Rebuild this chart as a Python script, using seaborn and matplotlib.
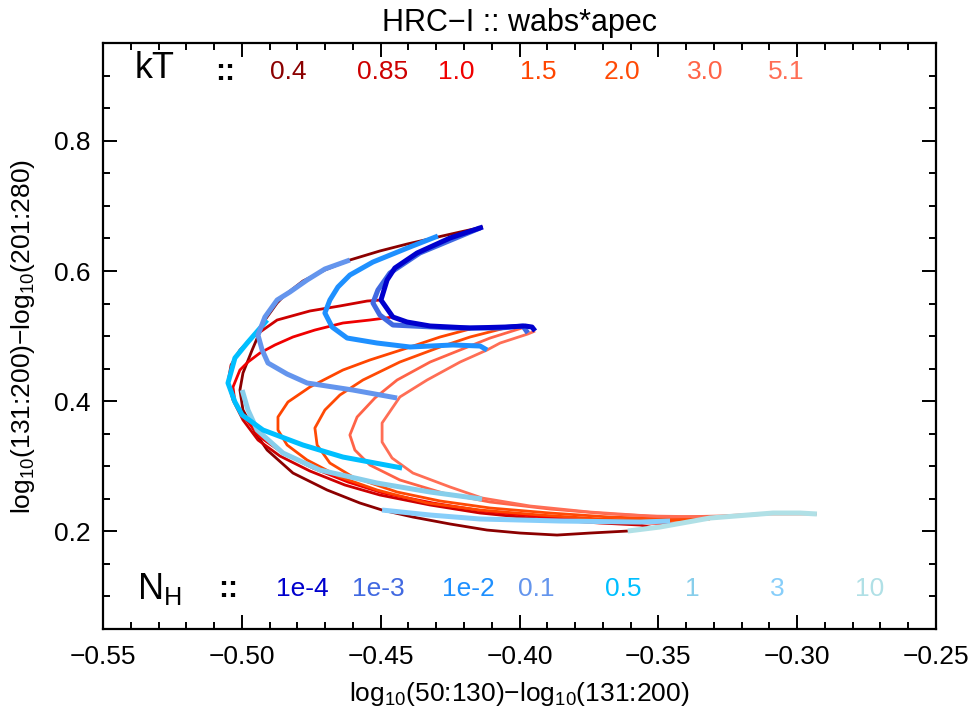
import pandas as pd
import seaborn as sns
import matplotlib.pyplot as plt
from matplotlib.ticker import MultipleLocator, FuncFormatter

sns.set_style('ticks')
plt.rcParams.update({
    'font.family': ['Liberation Sans', 'DejaVu Sans'],
    'mathtext.fontset': 'custom',
    'mathtext.rm': 'Liberation Sans',
    'mathtext.it': 'Liberation Sans:italic',
    'mathtext.bf': 'Liberation Sans:bold',
    'lines.solid_capstyle': 'butt',
    'lines.solid_joinstyle': 'round',
    'text.color': 'black',
    'axes.labelcolor': 'black',
    'axes.edgecolor': 'black',
    'xtick.color': 'black',
    'ytick.color': 'black',
})

# constant-kT tracks (NH runs from 1e-4 to 10 along each one)
kt_labels = ['0.4', '0.85', '1.0', '1.5', '2.0', '3.0', '5.1']
kt_x = [
    [-0.4132, -0.4214, -0.4294, -0.4405, -0.4503, -0.4611, -0.4701, -0.4780, -0.4845, -0.4873,
     -0.4917, -0.4963, -0.4996, -0.5007, -0.4996, -0.4953, -0.4909, -0.4816, -0.4693, -0.4575,
     -0.4495, -0.4384, -0.4250, -0.4117, -0.3998, -0.3865, -0.3746, -0.3610],
    [-0.4499, -0.4549, -0.4647, -0.4755, -0.4873, -0.4960, -0.5007, -0.5039, -0.5050, -0.5032,
     -0.4996, -0.4942, -0.4863, -0.4755, -0.4629, -0.4503, -0.4322, -0.4142, -0.3926, -0.3710,
     -0.3566, -0.3512],
    [-0.4456, -0.4539, -0.4636, -0.4737, -0.4816, -0.4881, -0.4935, -0.4978, -0.5007, -0.5032,
     -0.5025, -0.4989, -0.4935, -0.4852, -0.4744, -0.4618, -0.4492, -0.4312, -0.4132, -0.3916,
     -0.3700, -0.3530, -0.3422],
    [-0.4178, -0.4286, -0.4405, -0.4539, -0.4636, -0.4755, -0.4834, -0.4870, -0.4870, -0.4837,
     -0.4765, -0.4647, -0.4513, -0.4333, -0.4142, -0.3926, -0.3710, -0.3494, -0.3314],
    [-0.4052, -0.4178, -0.4286, -0.4431, -0.4564, -0.4647, -0.4701, -0.4737, -0.4729, -0.4683,
     -0.4600, -0.4441, -0.4286, -0.4106, -0.3890, -0.3674, -0.3458, -0.3206],
    [-0.3980, -0.4106, -0.4214, -0.4322, -0.4441, -0.4521, -0.4585, -0.4611, -0.4593, -0.4539,
     -0.4431, -0.4276, -0.4106, -0.3890, -0.3674, -0.3458, -0.3278, -0.3080],
    [-0.3944, -0.3970, -0.4070, -0.4117, -0.4214, -0.4333, -0.4431, -0.4495, -0.4495, -0.4459,
     -0.4384, -0.4250, -0.4135, -0.3962, -0.3746, -0.3530, -0.3278, -0.3098, -0.2929],
]
kt_y = [
    [0.6677, 0.6600, 0.6523, 0.6415, 0.6308, 0.6169, 0.6015, 0.5846, 0.5631, 0.5508,
     0.5246, 0.4785, 0.4431, 0.4169, 0.3862, 0.3523, 0.3246, 0.2892, 0.2631, 0.2431,
     0.2323, 0.2215, 0.2108, 0.2015, 0.1969, 0.1938, 0.1969, 0.2000],
    [0.5554, 0.5538, 0.5462, 0.5385, 0.5246, 0.4985, 0.4785, 0.4554, 0.4292, 0.4015,
     0.3708, 0.3400, 0.3154, 0.2923, 0.2708, 0.2554, 0.2400, 0.2277, 0.2185, 0.2123,
     0.2092, 0.2046],
    [0.5292, 0.5246, 0.5200, 0.5092, 0.4985, 0.4862, 0.4738, 0.4600, 0.4477, 0.4215,
     0.3985, 0.3738, 0.3446, 0.3200, 0.2969, 0.2754, 0.2585, 0.2431, 0.2308, 0.2215,
     0.2154, 0.2123, 0.2108],
    [0.5108, 0.4985, 0.4815, 0.4631, 0.4477, 0.4215, 0.3985, 0.3754, 0.3554, 0.3323,
     0.3092, 0.2831, 0.2631, 0.2431, 0.2323, 0.2246, 0.2185, 0.2154, 0.2185],
    [0.5123, 0.4985, 0.4831, 0.4600, 0.4323, 0.4092, 0.3862, 0.3585, 0.3323, 0.3046,
     0.2831, 0.2600, 0.2462, 0.2354, 0.2277, 0.2215, 0.2185, 0.2231],
    [0.5138, 0.4969, 0.4785, 0.4600, 0.4323, 0.4046, 0.3754, 0.3477, 0.3246, 0.3015,
     0.2785, 0.2585, 0.2446, 0.2338, 0.2262, 0.2215, 0.2231, 0.2277],
    [0.5077, 0.5031, 0.4892, 0.4785, 0.4600, 0.4323, 0.4062, 0.3662, 0.3369, 0.3123,
     0.2892, 0.2677, 0.2508, 0.2385, 0.2292, 0.2231, 0.2215, 0.2262, 0.2262],
]
kt_colors = ['#8B0000', '#CD0000', '#F00000', '#FF4500', '#FF4A05', '#FF6347', '#FF6E55']

# constant-NH tracks (kT runs from 0.4 to 5.1 along each one)
nh_labels = ['1e-4', '1e-3', '1e-2', '0.1', '0.5', '1', '3', '10']
nh_x = [
    [-0.4132, -0.4250, -0.4369, -0.4449, -0.4477, -0.4499, -0.4456, -0.4405, -0.4322, -0.4178,
     -0.4052, -0.3980, -0.3955, -0.3944],
    [-0.4142, -0.4359, -0.4467, -0.4510, -0.4528, -0.4503, -0.4456, -0.4240, -0.4070, -0.3988,
     -0.3970],
    [-0.4294, -0.4395, -0.4528, -0.4611, -0.4654, -0.4683, -0.4701, -0.4675, -0.4621, -0.4513,
     -0.4395, -0.4240, -0.4142, -0.4117],
    [-0.4611, -0.4701, -0.4765, -0.4827, -0.4873, -0.4917, -0.4942, -0.4927, -0.4906, -0.4837,
     -0.4765, -0.4600, -0.4441],
    [-0.4909, -0.4981, -0.5025, -0.5050, -0.5025, -0.4999, -0.4924, -0.4780, -0.4636, -0.4423],
    [-0.4999, -0.4978, -0.4945, -0.4852, -0.4719, -0.4513, -0.4322, -0.4135],
    [-0.4495, -0.4322, -0.4142, -0.3854, -0.3566, -0.3458],
    [-0.3610, -0.3494, -0.3314, -0.3087, -0.2990, -0.2929],
]
nh_y = [
    [0.6677, 0.6508, 0.6277, 0.6046, 0.5862, 0.5554, 0.5292, 0.5215, 0.5154, 0.5123,
     0.5138, 0.5154, 0.5138, 0.5077],
    [0.6662, 0.6277, 0.5969, 0.5708, 0.5508, 0.5323, 0.5169, 0.5123, 0.5123, 0.5154,
     0.5046],
    [0.6538, 0.6369, 0.6138, 0.5938, 0.5754, 0.5554, 0.5354, 0.5138, 0.4969, 0.4892,
     0.4831, 0.4862, 0.4846, 0.4785],
    [0.6169, 0.6031, 0.5862, 0.5677, 0.5554, 0.5292, 0.5015, 0.4785, 0.4585, 0.4415,
     0.4277, 0.4169, 0.4046],
    [0.5246, 0.4892, 0.4662, 0.4277, 0.3985, 0.3785, 0.3554, 0.3323, 0.3138, 0.2969],
    [0.4169, 0.3862, 0.3554, 0.3200, 0.2938, 0.2738, 0.2600, 0.2492],
    [0.2323, 0.2246, 0.2185, 0.2154, 0.2138, 0.2154],
    [0.2000, 0.2062, 0.2200, 0.2277, 0.2277, 0.2262],
]
nh_colors = ['#0000CD', '#4169E1', '#1E90FF', '#6495ED', '#00BFFF', '#87CEEB', '#87CEFA', '#B0E0E6']

red = pd.DataFrame({
    'x': [v for xs in kt_x for v in xs],
    'y': [v for ys in kt_y for v in ys],
    'kT': [lab for lab, xs in zip(kt_labels, kt_x) for _ in xs],
})
blue = pd.DataFrame({
    'x': [v for xs in nh_x for v in xs],
    'y': [v for ys in nh_y for v in ys],
    'NH': [lab for lab, xs in zip(nh_labels, nh_x) for _ in xs],
})

fig, ax = plt.subplots(figsize=(9.73, 7.14), dpi=100)
fig.subplots_adjust(left=0.1059, right=0.962, bottom=0.1197, top=0.9391)

sns.lineplot(data=red, x='x', y='y', hue='kT', hue_order=kt_labels,
             palette=dict(zip(kt_labels, kt_colors)), sort=False, estimator=None,
             linewidth=2.0, legend=False, ax=ax)
sns.lineplot(data=blue, x='x', y='y', hue='NH', hue_order=nh_labels[::-1],
             palette=dict(zip(nh_labels, nh_colors)), sort=False, estimator=None,
             linewidth=3.6, legend=False, ax=ax)

ax.set_xlim(-0.55, -0.25)
ax.set_ylim(0.05, 0.95)
ax.xaxis.set_major_locator(MultipleLocator(0.05))
ax.xaxis.set_minor_locator(MultipleLocator(0.01))
ax.yaxis.set_major_locator(MultipleLocator(0.2))
ax.yaxis.set_minor_locator(MultipleLocator(0.05))
ax.xaxis.set_major_formatter(FuncFormatter(lambda v, p: f'{v:.2f}'.replace('-', '\u2212')))
ax.yaxis.set_major_formatter(FuncFormatter(lambda v, p: f'{v:.1f}'))
ax.tick_params(which='both', direction='in', top=True, right=True, width=1.4, labelsize=19)
ax.tick_params(which='major', length=10)
ax.tick_params(which='minor', length=5)
ax.tick_params(axis='x', pad=12)
ax.tick_params(axis='y', pad=9)
for s in ax.spines.values():
    s.set_linewidth(1.6)

ax.set_title('HRC\u2212I :: wabs*apec', fontsize=22, pad=9)
ax.set_xlabel('log$_{10}$(50:130)\u2212log$_{10}$(131:200)', fontsize=19, labelpad=8)
ax.set_ylabel('log$_{10}$(131:200)\u2212log$_{10}$(201:280)', fontsize=19, labelpad=12)

# in-plot key: kT along the top, NH along the bottom
kt_pos = [0.222, 0.335, 0.424, 0.523, 0.623, 0.723, 0.820]
nh_pos = [0.239, 0.331, 0.439, 0.520, 0.624, 0.707, 0.809, 0.920]
ax.text(0.062, 0.958, 'kT', transform=ax.transAxes, fontsize=26, ha='center', va='center')
ax.text(0.147, 0.952, '::', transform=ax.transAxes, fontsize=22, ha='center', va='center',
        fontweight='bold')
for lab, c, px in zip(kt_labels, kt_colors, kt_pos):
    ax.text(px, 0.952, lab, transform=ax.transAxes, color=c, fontsize=19, ha='center', va='center')
ax.text(0.068, 0.068, 'N$_\\mathrm{H}$', transform=ax.transAxes, fontsize=26, ha='center', va='center')
ax.text(0.150, 0.068, '::', transform=ax.transAxes, fontsize=22, ha='center', va='center',
        fontweight='bold')
for lab, c, px in zip(nh_labels, nh_colors, nh_pos):
    ax.text(px, 0.068, lab, transform=ax.transAxes, color=c, fontsize=19, ha='center', va='center')

fig.savefig('out.png', dpi=100)
